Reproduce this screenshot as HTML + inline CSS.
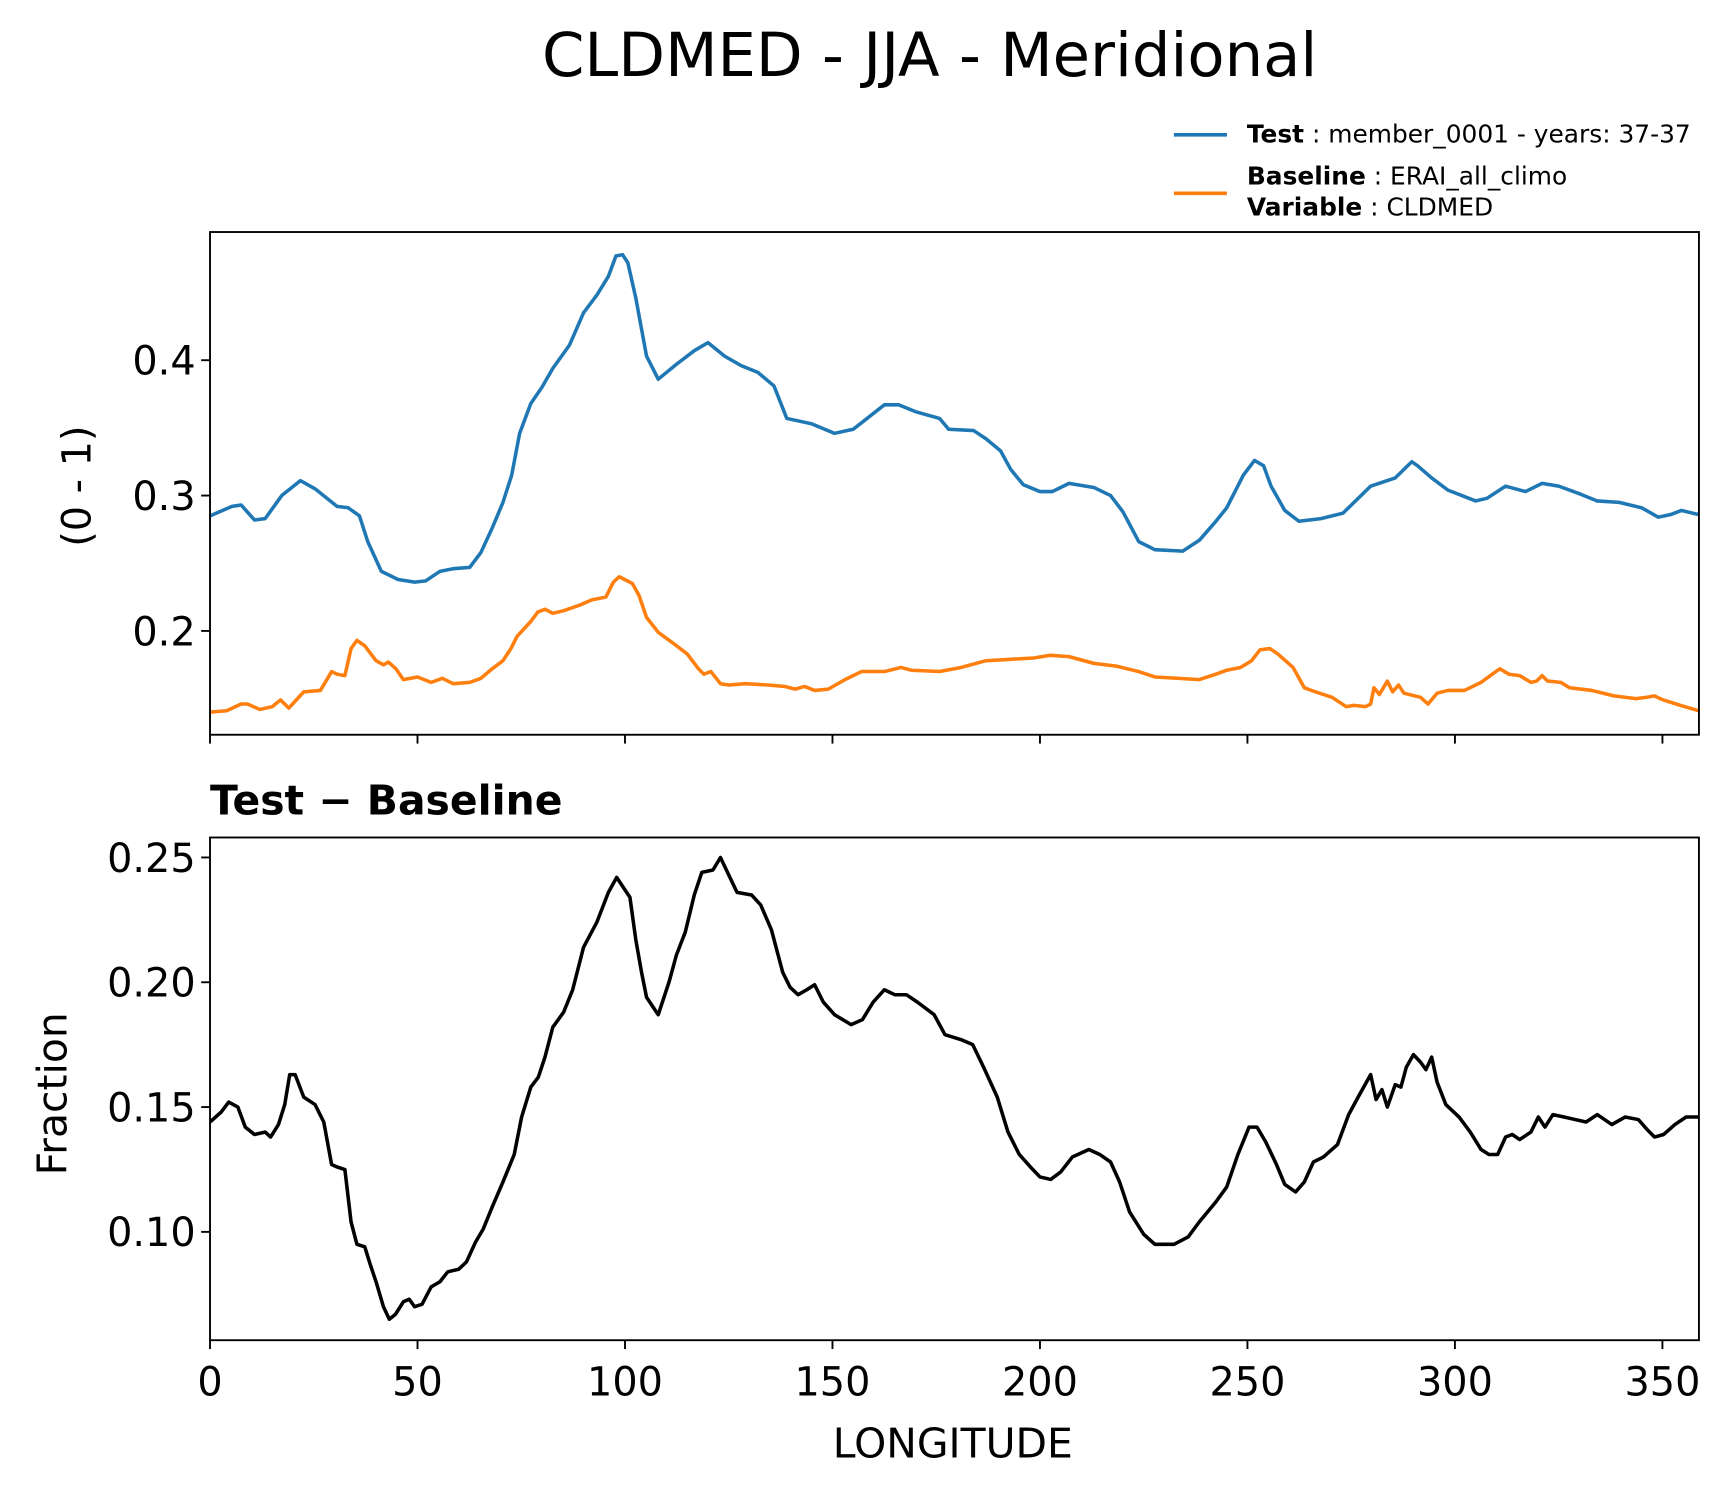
<!DOCTYPE html>
<html><head><meta charset="utf-8"><style>
html,body{margin:0;padding:0;background:#fff;}
svg{display:block;font-family:"DejaVu Sans","Liberation Sans",sans-serif;}
</style></head><body>
<svg id="chart" width="1731" height="1496" viewBox="0 0 1566 1354" preserveAspectRatio="none" xmlns="http://www.w3.org/2000/svg">
<rect width="1566" height="1354" fill="#fff"/>
<text x="841" y="69" font-size="55" text-anchor="middle">CLDMED - JJA - Meridional</text>
<g>
<line x1="1062" y1="122" x2="1110" y2="122" stroke="#1f77b4" stroke-width="3.3"/>
<text x="1128" y="129" font-size="22.5"><tspan font-weight="bold">Test</tspan> : member_0001 - years: 37-37</text>
<line x1="1062" y1="175" x2="1110" y2="175" stroke="#ff7f0e" stroke-width="3.3"/>
<text x="1128" y="167" font-size="22.5"><tspan font-weight="bold">Baseline</tspan> : ERAI_all_climo</text>
<text x="1128" y="195" font-size="22.5"><tspan font-weight="bold">Variable</tspan> : CLDMED</text>
</g>
<g id="topPanel"></g>
<g id="botPanel"></g>
<text transform="translate(82,440) rotate(-90)" font-size="36" text-anchor="middle">(0 - 1)</text>
<text transform="translate(60,990) rotate(-90)" font-size="37" text-anchor="middle">Fraction</text>
<text x="190" y="737" font-size="37" font-weight="bold">Test − Baseline</text>
<text x="862" y="1319" font-size="37" text-anchor="middle">LONGITUDE</text>
</svg>
<script>
const testLon=[0,5.3,7.5,10.7,13.3,17.3,21.8,25.3,30.6,33.3,36,38,41.3,45.3,49.3,52,55.4,58.6,62.6,65.3,68,70.6,72.7,74.6,77.3,80,82.6,86.6,90,93.2,96,97.8,99.4,100.7,102.6,105.2,108,112.4,116.7,120,124,128,132,135.9,139,145,150.5,155,162.5,166,170,175.8,178,184,187,190.5,193,196,200,203,207,213,217,220,223.8,227.7,234.4,238.4,242.4,245,249,251.7,253.9,255.7,259,262.4,267.7,273,275.7,279.7,285.6,289.6,291,294.4,298.3,305,307.7,312.2,317,321,325,330.3,334.3,339.6,345,349,352,354.6,357.3,358.8];
const testVal=[0.285,0.292,0.293,0.282,0.283,0.300,0.311,0.305,0.292,0.291,0.285,0.266,0.244,0.238,0.236,0.237,0.244,0.246,0.247,0.258,0.276,0.295,0.315,0.346,0.368,0.380,0.394,0.411,0.435,0.448,0.462,0.477,0.478,0.472,0.446,0.403,0.386,0.397,0.407,0.413,0.403,0.396,0.391,0.381,0.357,0.353,0.346,0.349,0.367,0.367,0.362,0.357,0.349,0.348,0.342,0.333,0.319,0.308,0.303,0.303,0.309,0.306,0.300,0.288,0.266,0.260,0.259,0.267,0.281,0.291,0.315,0.326,0.322,0.307,0.289,0.281,0.283,0.287,0.295,0.307,0.313,0.325,0.322,0.313,0.304,0.296,0.298,0.307,0.303,0.309,0.307,0.301,0.296,0.295,0.291,0.284,0.286,0.289,0.287,0.286];
const baseLon=[0,4,7.5,9,12,15,17,19,22.6,26.6,29.3,30.6,32.5,34,35.4,37.3,40,41.8,43,44.8,46.6,50,53.3,56,58.6,62.6,65.3,68,70.6,72.5,74,77.3,79,80.7,82.6,85.2,89,92,95.4,97.2,98.6,101.8,103.4,105.2,108,112,115,117.7,119,120.7,123,125,129,134.5,138.5,141,143.3,145.7,149,153,157,162.5,166.5,169,175.8,181,187,198.5,202.5,207,213,218.4,223.8,227.7,233,238.4,242.4,245,248.3,251,253,255.4,257.3,261,263.7,266.4,270.4,273.8,275.7,278.4,279.7,280.5,281.8,283.7,285,286.4,287.7,291.7,293.5,295.7,298.3,302.3,306.3,309,310.8,313,315.6,318.3,319.7,321,322.3,325.5,327.6,333,338.3,343.6,346.3,348,350.2,354.3,358.8];
const baseVal=[0.140,0.141,0.146,0.146,0.142,0.144,0.149,0.143,0.155,0.156,0.170,0.168,0.167,0.187,0.193,0.189,0.178,0.175,0.177,0.172,0.164,0.166,0.162,0.165,0.161,0.162,0.165,0.172,0.178,0.187,0.196,0.207,0.214,0.216,0.213,0.215,0.219,0.223,0.225,0.236,0.240,0.235,0.226,0.210,0.199,0.190,0.183,0.172,0.168,0.170,0.161,0.160,0.161,0.160,0.159,0.157,0.159,0.156,0.157,0.164,0.170,0.170,0.173,0.171,0.170,0.173,0.178,0.180,0.182,0.181,0.176,0.174,0.170,0.166,0.165,0.164,0.168,0.171,0.173,0.178,0.186,0.187,0.183,0.173,0.158,0.155,0.151,0.144,0.145,0.144,0.146,0.158,0.153,0.163,0.155,0.160,0.154,0.151,0.146,0.154,0.156,0.156,0.162,0.168,0.172,0.168,0.167,0.162,0.163,0.167,0.163,0.162,0.158,0.156,0.152,0.150,0.151,0.152,0.149,0.145,0.141];
const diffLon=[0,2.7,4.5,6.7,8.5,10.7,13.3,14.6,16.5,18,19.2,20.5,22.6,25.3,27.4,29.3,30.6,32.5,34,35.4,37.3,38.6,40,41.8,43.2,44.7,46.6,48,49.3,51.1,53.3,55.4,57.3,59.9,61.8,64,65.8,68,70.6,73.3,75.1,77.3,79.1,80.7,82.6,85.2,87.4,90,93.2,96,98,100,101.2,102.6,104,105.2,108,110.6,112.4,114.5,116.7,118.5,121.2,123,125,127,130.5,132.7,135.3,138,139.8,141.7,143.8,145.7,147.8,150.5,154.5,157.2,159.8,162.5,165,167.8,170.5,174.5,177.1,181,183.8,186.4,189.7,192.3,195,197.7,200,202.6,205,207.8,211.8,214.4,217,219.2,221.6,225,227.7,232.3,235.7,238.4,242.4,245,247.7,250.4,252.3,254.4,257,259,261.6,263.7,265.9,268.3,271.7,274.4,277,279.7,281,282.4,283.7,285.6,287,288.3,290,291.7,293,294.4,295.7,297.8,301,303.7,306.3,308.2,310.3,312.2,313.8,315.6,318.3,320.1,321.7,323.6,326.3,329,331.6,334.3,337.8,341,344.2,346.3,348.1,350.3,353,355.7,358.8];
const diffVal=[0.144,0.148,0.152,0.150,0.142,0.139,0.140,0.138,0.143,0.151,0.163,0.163,0.154,0.151,0.144,0.127,0.126,0.125,0.104,0.095,0.094,0.087,0.080,0.070,0.065,0.067,0.072,0.073,0.070,0.071,0.078,0.080,0.084,0.085,0.088,0.096,0.101,0.110,0.120,0.131,0.146,0.158,0.162,0.170,0.182,0.188,0.197,0.214,0.224,0.236,0.242,0.237,0.234,0.217,0.204,0.194,0.187,0.200,0.211,0.220,0.235,0.244,0.245,0.250,0.243,0.236,0.235,0.231,0.221,0.204,0.198,0.195,0.197,0.199,0.192,0.187,0.183,0.185,0.192,0.197,0.195,0.195,0.192,0.187,0.179,0.177,0.175,0.166,0.154,0.140,0.131,0.126,0.122,0.121,0.124,0.130,0.133,0.131,0.128,0.120,0.108,0.099,0.095,0.095,0.098,0.104,0.112,0.118,0.131,0.142,0.142,0.136,0.127,0.119,0.116,0.120,0.128,0.130,0.135,0.147,0.155,0.163,0.153,0.157,0.150,0.159,0.158,0.166,0.171,0.168,0.165,0.170,0.160,0.151,0.146,0.140,0.133,0.131,0.131,0.138,0.139,0.137,0.140,0.146,0.142,0.147,0.146,0.145,0.144,0.147,0.143,0.146,0.145,0.141,0.138,0.139,0.143,0.146,0.146];
const xTicks=[0,50,100,150,200,250,300,350];
const topYTicks=[0.2,0.3,0.4];
const botYTicks=[0.10,0.15,0.20,0.25];

const NS='http://www.w3.org/2000/svg';
const L=190,R=1537,XMAX=358.8;
const xs=v=>L+(v/XMAX)*(R-L);
const topT=210,topB=665,topMin=0.1233,topMax=0.4947;
const botT=758,botB=1213,botMin=0.0566,botMax=0.258;
const yTop=v=>topB-(v-topMin)/(topMax-topMin)*(topB-topT);
const yBot=v=>botB-(v-botMin)/(botMax-botMin)*(botB-botT);
function mk(tag,attrs,parent){const e=document.createElementNS(NS,tag);for(const k in attrs)e.setAttribute(k,attrs[k]);parent.appendChild(e);return e;}
function drawLine(parent,lons,vals,yf,color,name){
  const d=lons.map((l,i)=>(i?'L':'M')+xs(l).toFixed(1)+','+yf(vals[i]).toFixed(1)).join('');
  const p=mk('path',{d:d,fill:'none',stroke:color,'stroke-width':3.2,'stroke-linejoin':'round'},parent);
  
  
}
function axes(parent,t,b,yf,yt,labels,fmt,pfx){
  const clipId=pfx+'clip';
  const cp=mk('clipPath',{id:clipId},parent);mk('rect',{x:L,y:t,width:R-L,height:b-t},cp);
  xTicks.forEach(v=>{
    const tk=mk('line',{x1:xs(v),x2:xs(v),y1:b,y2:b+8,stroke:'#000','stroke-width':1.7},parent);
    
    
    if(labels){
      const tx=mk('text',{x:xs(v),y:b+50,'font-size':36,'text-anchor':'middle'},parent);
      tx.textContent=v;
      
      
    }
  });
  yt.forEach(v=>{
    const tk=mk('line',{x1:L-8,x2:L,y1:yf(v),y2:yf(v),stroke:'#000','stroke-width':1.7},parent);
    
    
    const tx=mk('text',{x:L-13,y:yf(v)+13,'font-size':36,'text-anchor':'end'},parent);
    tx.textContent=v.toFixed(fmt);
    
    
  });
  return mk('g',{'clip-path':'url(#'+clipId+')'},parent);
}
const topG=document.getElementById('topPanel'),botG=document.getElementById('botPanel');
const gt=axes(topG,topT,topB,yTop,topYTicks,false,1,'top-');
drawLine(gt,testLon,testVal,yTop,'#1f77b4','test-line');
drawLine(gt,baseLon,baseVal,yTop,'#ff7f0e','baseline-line');
const fr1=mk('rect',{x:L,y:topT,width:R-L,height:topB-topT,fill:'none',stroke:'#000','stroke-width':1.7},topG);


const gb=axes(botG,botT,botB,yBot,botYTicks,true,2,'bottom-');
drawLine(gb,diffLon,diffVal,yBot,'#000','difference-line');
const fr2=mk('rect',{x:L,y:botT,width:R-L,height:botB-botT,fill:'none',stroke:'#000','stroke-width':1.7},botG);


</script>
</body></html>
